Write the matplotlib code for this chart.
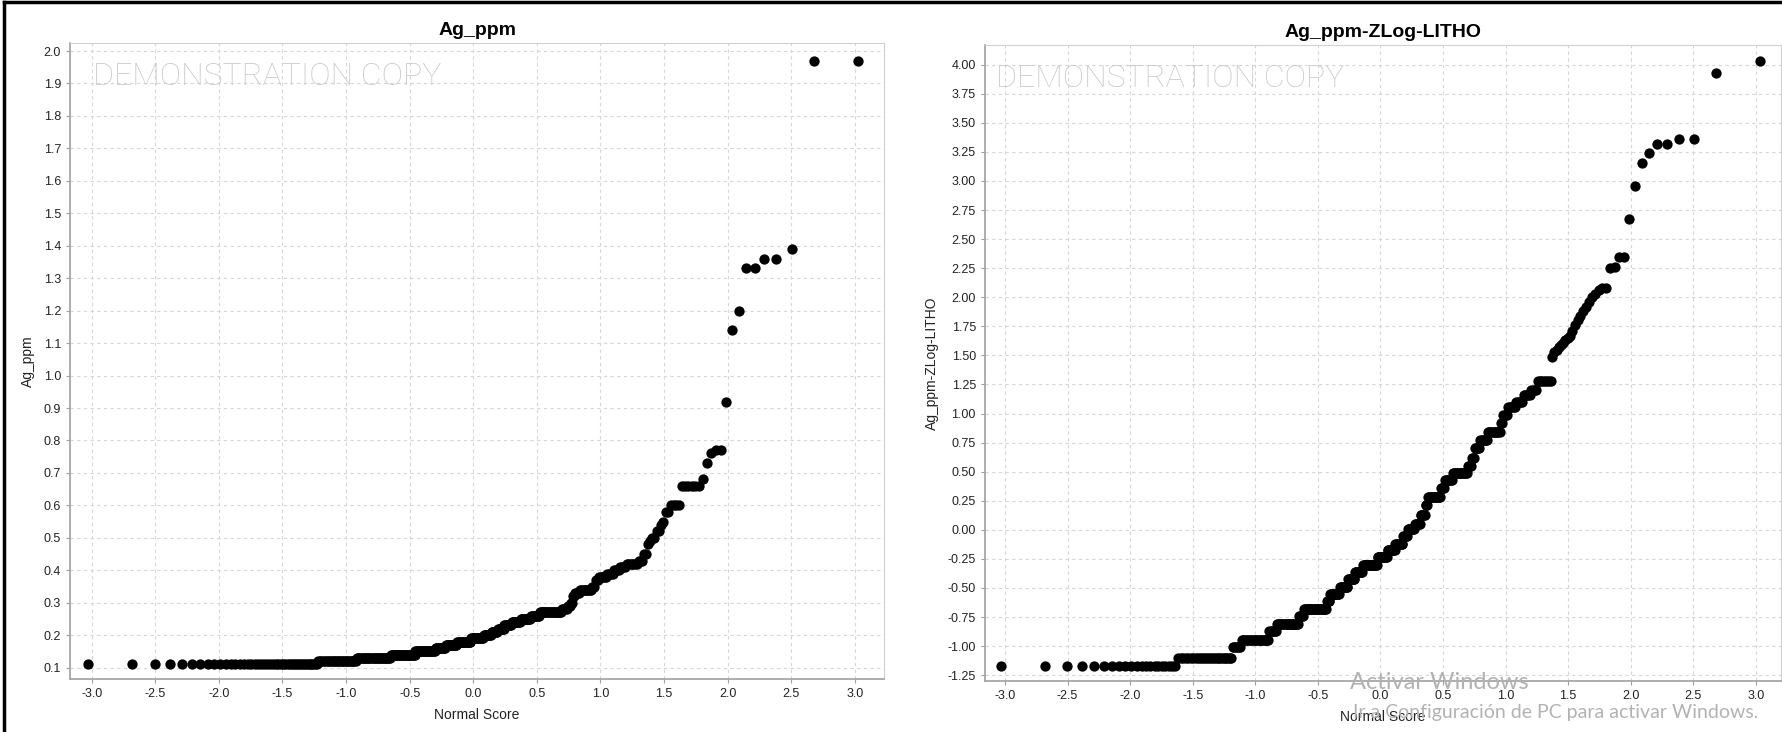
"""Normal score plots of raw Ag_ppm and its lithology-normalised log transform."""

from statistics import NormalDist

import matplotlib

matplotlib.use("Agg")
import matplotlib.pyplot as plt
import numpy as np
from matplotlib.lines import Line2D
from matplotlib.ticker import FormatStrFormatter, MultipleLocator

# Distinct Ag_ppm values and how many samples sit at each
AG_LEVELS = [
    0.11, 0.12, 0.13, 0.14, 0.15, 0.16, 0.17, 0.18, 0.19, 0.20,
    0.21, 0.22, 0.23, 0.24, 0.25, 0.26, 0.27, 0.28, 0.29, 0.30,
    0.32, 0.33, 0.34, 0.35, 0.37, 0.38, 0.39, 0.40, 0.41, 0.42,
    0.43, 0.45, 0.48, 0.49, 0.50, 0.52, 0.54, 0.55, 0.58, 0.60,
    0.66, 0.68, 0.73, 0.76, 0.77, 0.92, 1.14, 1.20, 1.33, 1.36,
    1.39, 1.97,
]
AG_COUNTS = [
    45, 28, 32, 27, 24, 13, 14, 18, 16, 10,
    8, 8, 9, 11, 12, 10, 24, 5, 3, 2,
    2, 5, 10, 3, 3, 6, 5, 4, 4, 7,
    3, 2, 1, 1, 2, 2, 1, 1, 2, 4,
    6, 1, 1, 1, 2, 1, 1, 1, 2, 2,
    1, 2,
]

# Distinct Ag_ppm-ZLog-LITHO values and their sample counts
ZLOG_LEVELS = [
    -1.17, -1.10, -1.01, -0.95, -0.87, -0.81, -0.74, -0.68, -0.61, -0.55,
    -0.49, -0.42, -0.36, -0.30, -0.23, -0.17, -0.12, -0.05, 0.01, 0.05,
    0.13, 0.21, 0.28, 0.36, 0.43, 0.49, 0.55, 0.62, 0.70, 0.77,
    0.84, 0.92, 0.99, 1.06, 1.10, 1.16, 1.20, 1.28, 1.49, 1.53,
    1.55, 1.57, 1.59, 1.61, 1.63, 1.65, 1.67, 1.71, 1.76, 1.80,
    1.84, 1.88, 1.92, 1.96, 2.00, 2.03, 2.06, 2.08, 2.25, 2.26,
    2.35, 2.67, 2.96, 3.15, 3.24, 3.32, 3.36, 3.93, 4.03,
]
ZLOG_COUNTS = [
    21, 27, 6, 22, 7, 22, 5, 26, 4, 12,
    10, 9, 10, 19, 13, 10, 10, 6, 9, 7,
    6, 3, 15, 5, 9, 16, 4, 3, 5, 7,
    11, 2, 4, 6, 5, 5, 4, 8, 1, 1,
    1, 1, 1, 1, 1, 1, 1, 1, 1, 1,
    1, 1, 1, 1, 1, 1, 1, 2, 1, 1,
    2, 1, 1, 1, 1, 2, 2, 1, 1,
]

PANELS = [
    {
        "title": "Ag_ppm",
        "ylabel": "Ag_ppm",
        "levels": AG_LEVELS,
        "counts": AG_COUNTS,
        "rect": [0.0393, 0.0724, 0.4565, 0.869],
        "xlim": (-3.17, 3.23),
        "ylim": (0.065, 2.025),
        "ystep": 0.1,
        "yfmt": "%.1f",
        "mark_x": 0.028,
    },
    {
        "title": "Ag_ppm-ZLog-LITHO",
        "ylabel": "Ag_ppm-ZLog-LITHO",
        "levels": ZLOG_LEVELS,
        "counts": ZLOG_COUNTS,
        "rect": [0.5524, 0.0697, 0.4464, 0.869],
        "xlim": (-3.16, 3.20),
        "ylim": (-1.30, 4.17),
        "ystep": 0.25,
        "yfmt": "%.2f",
        "mark_x": 0.014,
    },
]

GRID_COLOR = "#d6d6d6"
AXIS_COLOR = "#a0a0a0"
WATERMARK_COLOR = "#c9c9c9"
NOTICE_COLOR = "#b2b2b2"


def normal_scores(values):
    """Return the sorted values with their (i - 0.5) / n normal scores."""
    ordered = np.sort(np.asarray(values, dtype=float))
    n = len(ordered)
    dist = NormalDist()
    scores = np.array([dist.inv_cdf((i - 0.5) / n) for i in range(1, n + 1)])
    return scores, ordered


fig = plt.figure(figsize=(17.83, 7.32), dpi=100)
plt.rcParams["font.family"] = ["Liberation Sans", "DejaVu Sans"]

for panel in PANELS:
    ax = fig.add_axes(panel["rect"])
    samples = np.repeat(panel["levels"], panel["counts"])
    scores, ordered = normal_scores(samples)
    ax.scatter(scores, ordered, s=55, color="black", linewidths=0, zorder=3)

    ax.set_xlim(*panel["xlim"])
    ax.set_ylim(*panel["ylim"])
    ax.xaxis.set_major_locator(MultipleLocator(0.5))
    ax.yaxis.set_major_locator(MultipleLocator(panel["ystep"]))
    ax.xaxis.set_major_formatter(FormatStrFormatter("%.1f"))
    ax.yaxis.set_major_formatter(FormatStrFormatter(panel["yfmt"]))
    ax.grid(True, color=GRID_COLOR, linestyle=(0, (3, 3)), linewidth=0.8)
    ax.set_axisbelow(True)

    for side in ("left", "bottom"):
        ax.spines[side].set_color(AXIS_COLOR)
        ax.spines[side].set_linewidth(1.2)
    for side in ("top", "right"):
        ax.spines[side].set_color("#d0d0d0")
    ax.tick_params(direction="out", length=3, color=AXIS_COLOR,
                   labelsize=9, labelcolor="#222222")

    ax.set_title(panel["title"], fontsize=14, fontweight="bold", pad=6)
    ax.set_xlabel("Normal Score", fontsize=10, color="#222222", labelpad=6)
    ax.set_ylabel(panel["ylabel"], fontsize=10, color="#222222", labelpad=6)

    ax.text(panel["mark_x"], 0.947, "DEMONSTRATION COPY", transform=ax.transAxes,
            fontsize=23, family=["Roboto", "DejaVu Sans"], fontweight="light",
            color=WATERMARK_COLOR, ha="left", va="center", zorder=1)

# Outer frame along the top and left edges
fig.add_artist(Line2D([0.002, 0.002], [0, 0.997], color="black", linewidth=2.5))
fig.add_artist(Line2D([0.002, 1.0], [0.997, 0.997], color="black", linewidth=2.5))

# Operating-system activation notice overlaid on the lower right
fig.text(0.757, 0.068, "Activar Windows", fontsize=17, color=NOTICE_COLOR,
         family=["Lato", "DejaVu Sans"], ha="left", va="center", zorder=10)
fig.text(0.759, 0.027, "Ir a Configuración de PC para activar Windows.",
         fontsize=14, color=NOTICE_COLOR, family=["Lato", "DejaVu Sans"],
         ha="left", va="center", zorder=10)

fig.savefig("out.png", dpi=100)
